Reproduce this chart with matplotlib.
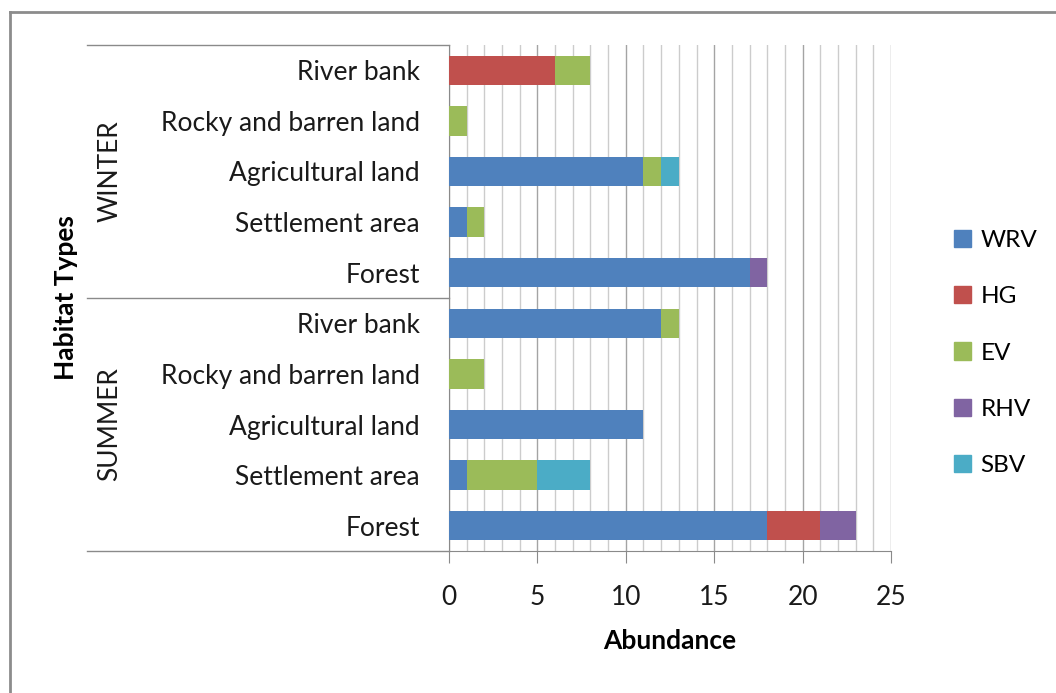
import numpy as np
import matplotlib
matplotlib.use("Agg")
import matplotlib.pyplot as plt
from matplotlib.patches import Patch
from matplotlib.lines import Line2D

plt.rcParams['font.family'] = ['Lato', 'DejaVu Sans']

# categories, listed bottom to top (summer first, then winter)
habitats = ["Forest", "Settlement area", "Agricultural land",
            "Rocky and barren land", "River bank"]
seasons = ["SUMMER", "WINTER"]
series = ["WRV", "HG", "EV", "RHV", "SBV"]
colors = ["#4F81BD", "#C0504D", "#9BBB59", "#8064A2", "#4BACC6"]

#          summer: Forest, Settl, Agri, Rocky, River | winter: same order
wrv = [18, 1, 11, 0, 12, 17, 1, 11, 0, 0]
hg = [3, 0, 0, 0, 0, 0, 0, 0, 0, 6]
ev = [0, 4, 0, 2, 1, 0, 1, 1, 1, 2]
rhv = [2, 0, 0, 0, 0, 1, 0, 0, 0, 0]
sbv = [0, 3, 0, 0, 0, 0, 0, 1, 0, 0]
values = [wrv, hg, ev, rhv, sbv]

labels = habitats * len(seasons)
y = np.arange(len(labels))

fig = plt.figure(figsize=(10.56, 6.93), dpi=100)
ax = fig.add_axes([449/1056, 1-551/693, 442/1056, 506/693])

left = np.zeros(len(labels))
for name, vals, c in zip(series, values, colors):
    vals = np.array(vals, dtype=float)
    ax.barh(y, vals, left=left, height=0.58, color=c, label=name, zorder=3)
    left += vals

fs = 19
ax.set_xlim(0, 25)
ax.set_ylim(-0.5, len(labels) - 0.5)
ax.set_xticks(np.arange(0, 26, 5))
ax.set_xticks(np.arange(0, 26, 1), minor=True)
ax.set_yticks(y)
ax.set_yticklabels(labels)
ax.grid(axis='x', which='minor', color='#cccccc', lw=1, zorder=0)
ax.grid(axis='x', which='major', color='#a4a4a4', lw=1, zorder=0)
ax.tick_params(axis='y', length=0, pad=21, labelsize=fs, colors='#1a1a1a')
ax.tick_params(axis='x', which='major', direction='out', length=8.5,
               color='#8a8a8a', pad=16, labelsize=fs, labelcolor='#1a1a1a')
ax.tick_params(axis='x', which='minor', length=0)
for s in ['top', 'right']:
    ax.spines[s].set_visible(False)
for s in ['left', 'bottom']:
    ax.spines[s].set_color('#8a8a8a')

ax.set_xlabel("Abundance", fontsize=fs, fontweight='bold', labelpad=14)

# multi-level category lines
xl = (87 - 449) / 442
for yy in [0, 0.5, 1]:
    ax.add_line(Line2D([xl, 0], [yy, yy], transform=ax.transAxes,
                       color='#8a8a8a', lw=1, clip_on=False))

for i, s in enumerate(seasons):
    ax.text((110 - 449) / 442, 0.25 + 0.5 * i, s, transform=ax.transAxes,
            rotation=90, ha='center', va='center', fontsize=fs,
            color='#1a1a1a')

fig.text(66/1056, 1-298/693, "Habitat Types", rotation=90, ha='center',
         va='center', fontsize=fs, fontweight='bold')

# outer chart border (left and top visible)
fig.add_artist(Line2D([10/1056, 10/1056], [1-12/693, 0], color='#8c8c8c',
                      lw=2, transform=fig.transFigure))
fig.add_artist(Line2D([10/1056, 1], [1-12/693, 1-12/693], color='#8c8c8c',
                      lw=2, transform=fig.transFigure))

handles = [Patch(color=c) for c in colors]
fig.legend(handles, series, loc='center left',
           bbox_to_anchor=(944/1056, 1-353/693), frameon=False,
           fontsize=17.5, handlelength=0.7, handleheight=0.7,
           handletextpad=0.4, labelspacing=1.45, borderaxespad=0)

fig.savefig("out.png", dpi=100)
